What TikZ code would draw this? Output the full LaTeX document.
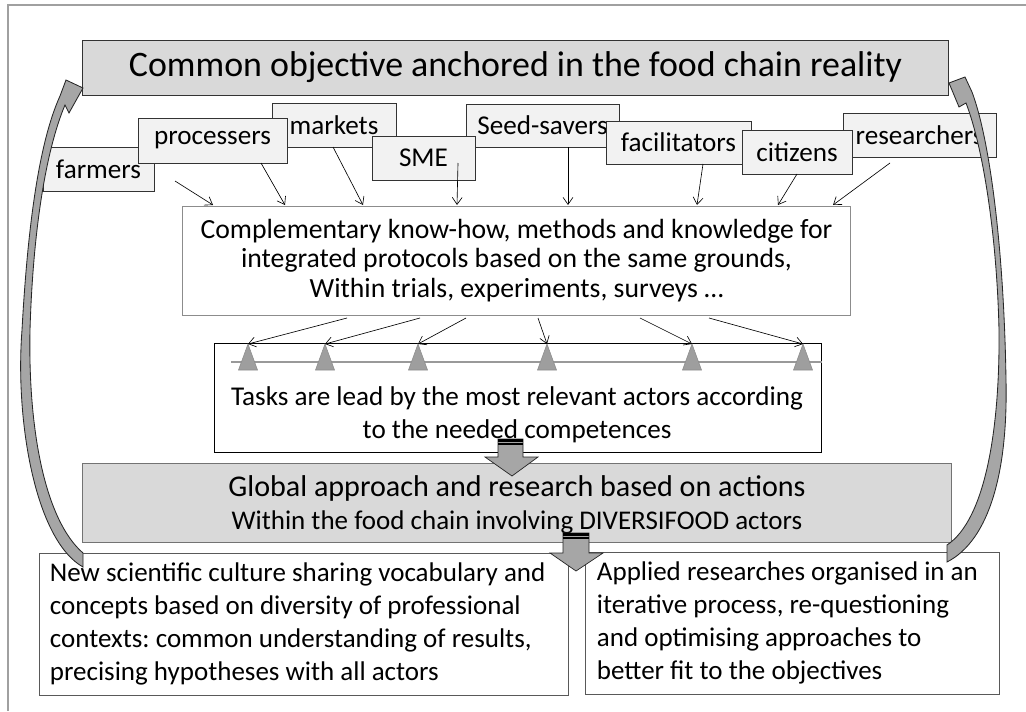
\documentclass[tikz,border=0pt]{standalone}
\usepackage{fontspec}
\setmainfont{Carlito}
\frenchspacing
\usetikzlibrary{arrows.meta}
\definecolor{boxgray}{HTML}{D9D9D9}
\definecolor{actorgray}{HTML}{F2F2F2}
\definecolor{arrowgray}{HTML}{A6A6A6}
\definecolor{framegray}{HTML}{A0A0A0}
\tikzset{
  goalbox/.style={draw=black!80,fill=boxgray,line width=0.6pt,inner sep=0pt,font=\fontsize{25.5}{30}\selectfont},
  actor/.style={draw=black!80,fill=actorgray,line width=0.6pt,inner sep=0pt,font=\fontsize{19.3}{21}\selectfont},
  knowbox/.style={draw=black!45,fill=white,line width=0.6pt,inner sep=0pt,align=center,font=\fontsize{19.7}{20.8}\selectfont},
  taskbox/.style={draw=black,fill=white,line width=0.6pt,inner sep=0pt},
  globalbox/.style={draw=black!55,fill=boxgray,line width=0.6pt,inner sep=0pt,align=center},
  resultbox/.style={draw=black!65,fill=white,line width=0.6pt,inner ysep=0pt,align=flush left,font=\fontsize{19.2}{23.6}\selectfont},
  blockarrow/.style={fill=arrowgray,draw=black!85,line width=0.5pt},
  loopback/.style={fill=arrowgray,draw=black!85,line width=0.6pt}
}
\begin{document}
\begin{tikzpicture}[x=0.025cm,y=-0.025cm,>={Straight Barb[length=5pt,width=7pt]}]
\useasboundingbox (0,0) rectangle (1026,711);
\draw[framegray,line width=1pt] (8,711) -- (8,5) -- (1026,5);

\node[goalbox,minimum width=21.625cm,minimum height=1.375cm] (goal) at (515.5,67.5) {Common objective anchored in the food chain reality};

% actors, back ones first
\node[actor,minimum width=3.1cm,minimum height=1.1cm] (markets) at (334,125) {markets};
\node[actor,minimum width=3.825cm,minimum height=1.075cm] (seedsavers) at (542.5,125.5) {Seed-savers};
\node[actor,minimum width=3.825cm,minimum height=1.1cm] (researchers) at (919.5,135) {researchers};
\node[actor,minimum width=2.775cm,minimum height=1.1cm] (farmers) at (98.5,169) {farmers};
\node[actor,minimum width=3.725cm,minimum height=1.125cm] (processers) at (212.5,140.5) {processers};
\node[actor,minimum width=2.575cm,minimum height=1.1cm] (sme) at (423.5,158) {SME};
\node[actor,minimum width=3.625cm,minimum height=1.075cm] (facilitators) at (678.5,142.5) {facilitators};
\node[actor,minimum width=2.75cm,minimum height=1.1cm] (citizens) at (797,152) {citizens};

\node[knowbox,minimum width=16.675cm,minimum height=2.725cm] (know) at (516.5,260.5) {Complementary know-how, methods and knowledge for\\ integrated protocols based on the same grounds,\\ Within trials, experiments, surveys \dots};

\foreach \sx/\sy/\ex [count=\i] in {175/181/213, 261/163/285, 333/147/363, 458/163/457, 568/147/568, 703/164/697, 797/174/778, 890/163/833} {
  \coordinate (a\i) at (\sx,\sy);
  \coordinate (b\i) at (\ex,205);
  \draw[->,line width=0.45pt] (a\i) -- (b\i);
}

\node[taskbox,minimum width=15.175cm,minimum height=2.725cm] (tasks) at (517.5,397.5) {};
\draw[black!40,line width=0.8pt] (231,362) -- (tasks.east |- 0,362);
\foreach \tx/\kx [count=\i] in {248/347, 325/420, 418/466, 547/538, 692/640, 803/709} {
  \coordinate (t\i) at (\tx,344);
  \coordinate (k\i) at (\kx,318);
  \filldraw[fill=black!38,draw=black!45,line width=0.4pt] (\tx-9.5,370) -- (t\i) -- (\tx+9.5,370) -- cycle;
  \draw[->,line width=0.45pt] (k\i) -- (t\i);
}
\node[font=\fontsize{19.3}{23.5}\selectfont,align=center] (taskstext) at (517,415) {Tasks are lead by the most relevant actors according\\ to the needed competences};

\node[globalbox,minimum width=21.7cm,minimum height=1.975cm] (global) at (517,502.5) {};
\node[align=center] (globaltext) at (517,505) {\fontsize{21.4}{25}\selectfont Global approach and research based on actions\\[6pt] \fontsize{19.2}{25}\selectfont Within the food chain involving DIVERSIFOOD actors};

\node[resultbox,text width=12.675cm,inner xsep=0.275cm,minimum height=3.55cm] (culture) at (303.5,624) {New scientific culture sharing vocabulary and\\ concepts based on diversity of professional\\ contexts: common understanding of results,\\ precising hypotheses with all actors};
\node[resultbox,text width=9.75cm,inner xsep=0.3cm,minimum height=3.55cm] (applied) at (792,623) {Applied researches organised in an\\ iterative process, re-questioning\\ and optimising approaches to\\ better fit to the objectives};

% striped block arrows
\filldraw[blockarrow] (498,439) -- (523,439) -- (523,457) -- (538,457) -- (512,476) -- (485,457) -- (498,457) -- cycle;
\fill[black] (498,439) rectangle (523,441.5);
\fill[black] (498,443) rectangle (523,444.5);
\filldraw[blockarrow] (563,533) -- (589,533) -- (589,553) -- (603,553) -- (576,571) -- (550,553) -- (563,553) -- cycle;
\fill[black] (563,533) rectangle (589,535.5);
\fill[black] (563,537) rectangle (589,538.5);

% curved arrows back to the objective
\filldraw[loopback] (83,567) .. controls (35,540) and (15,420) .. (22,330)
  .. controls (28,220) and (40,140) .. (60,96) -- (66,80) -- (83,88) -- (69,113) -- (65,105)
  .. controls (46,150) and (33,230) .. (30,330) .. controls (28,430) and (45,520) .. (83,553) -- cycle;
\filldraw[loopback] (947,562) .. controls (990,540) and (1008,470) .. (1006,380)
  .. controls (1004,250) and (990,140) .. (972,92) -- (965,77) -- (949,83) -- (959,107) -- (966,103)
  .. controls (984,150) and (997,240) .. (999,330) .. controls (1000,430) and (985,520) .. (947,545) -- cycle;
\end{tikzpicture}
\end{document}
